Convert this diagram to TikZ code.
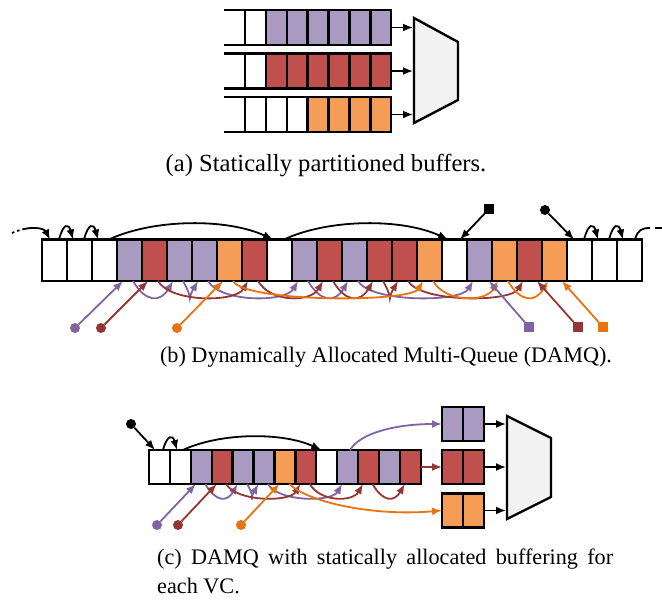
\documentclass[tikz,border=0pt]{standalone}
\usepackage{fontspec}
\setmainfont{Liberation Serif}
\usetikzlibrary{arrows.meta}
\definecolor{pfill}{HTML}{A99AC1}
\definecolor{rfill}{HTML}{C0504D}
\definecolor{ofill}{HTML}{F59D56}
\definecolor{pline}{HTML}{8064A2}
\definecolor{rline}{HTML}{943634}
\definecolor{oline}{HTML}{E9730E}
\definecolor{muxfill}{HTML}{F2F2F2}
\tikzset{
  slot/.style={rectangle, draw=black, line width=2.4pt, inner sep=0pt, outer sep=0pt, anchor=north west},
  slotA/.style={slot, minimum width=20.9pt, minimum height=35pt},
  slotB/.style={slot, minimum width=25pt, minimum height=41.5pt},
  slotC/.style={slot, minimum width=20.9pt, minimum height=34pt},
  link/.style={line width=1.8pt, -{Latex[length=10pt,width=8pt]}},
  plain/.style={line width=1.8pt},
  edge/.style={line width=2.4pt},
  mux/.style={draw=black, fill=muxfill, line width=2.4pt, line join=miter},
  pin/.style={circle, fill=#1, inner sep=0pt, minimum size=10pt},
  sqpin/.style={rectangle, fill=#1, inner sep=0pt, minimum size=9.5pt},
  caption/.style={font=\fontsize{22.2pt}{29pt}\selectfont, inner sep=0pt},
}
\begin{document}
\begin{tikzpicture}[x=1pt,y=-1pt]
\useasboundingbox (0,0) rectangle (662,608);

% ---------- (a) statically partitioned buffers ----------
\foreach \r/\cols in {0/{white,white,pfill,pfill,pfill,pfill,pfill,pfill},
                      1/{white,white,rfill,rfill,rfill,rfill,rfill,rfill},
                      2/{white,white,white,white,ofill,ofill,ofill,ofill}} {
  \foreach \c [count=\i from 0] in \cols
    \node[slotA, fill=\c, draw=none] (a\r\i) at (224+20.9*\i, 10+43.5*\r) {};
  \draw[edge] (a\r0.north west) -- (a\r7.north east) -- (a\r7.south east) -- (a\r0.south west);
  \foreach \i in {1,...,7}
    \draw[edge] (a\r\i.north west) -- (a\r\i.south west);
}
\draw[mux] (414,18) -- (458,42) -- (458,100) -- (414,123) -- cycle;
\coordinate (ain0) at (413,27.5);
\coordinate (ain1) at (413,71);
\coordinate (ain2) at (413,114.5);
\foreach \r in {0,1,2}
  \draw[link] (a\r7.east) -- (ain\r);
\node[caption, font=\fontsize{24.6pt}{30pt}\selectfont] (capA) at (326,165) {(a) Statically partitioned buffers.};

% ---------- (b) DAMQ ----------
\foreach \c [count=\i from 0] in {white,white,white,pfill,rfill,pfill,pfill,ofill,rfill,white,pfill,rfill,
                                  pfill,rfill,rfill,ofill,white,pfill,ofill,rfill,ofill,white,white,white}
  \node[slotB, fill=\c] (b\i) at (42+25*\i, 239.5) {};

% free list above the buffer
\coordinate (bfree) at (12,233);
\draw[link, dash pattern=on 2.5pt off 3pt on 2.5pt off 3pt on 80pt] (bfree) .. controls (30,225) and (44,228) .. ([xshift=8pt]b0.north west);
\foreach \s/\t in {0/1,1/2,21/22,22/23}
  \draw[link] ([xshift=17pt]b\s.north west) .. controls +(-75:17) and +(-105:17) .. ([xshift=6pt]b\t.north west);
\foreach \s/\t in {2/9,9/16}
  \draw[link] ([xshift=17pt]b\s.north west) .. controls +(-25:50) and +(-155:50) .. ([xshift=6pt]b\t.north west);
\coordinate (bfreeend) at (650,228);
\coordinate (bfreeout) at (662,228);
\draw[plain] ([xshift=18pt]b23.north west) .. controls +(-75:10) and (642,228) .. (bfreeend);
\draw[plain, dash pattern=on 0pt off 5pt on 10pt] (bfreeend) -- (bfreeout);
\node[sqpin=black] (bhead) at (489,209) {};
\draw[link] (bhead) -- ([xshift=18pt]b16.north west);
\node[pin=black] (btail) at (545,210) {};
\draw[link] (btail) -- ([xshift=7pt]b21.north west);

% per-VC linked lists below the buffer
\foreach \s/\t/\col in {3/5/pline,5/6/pline,6/10/pline,10/12/pline,12/17/pline,
                        4/8/rline,8/11/rline,11/13/rline,13/14/rline,14/19/rline,
                        7/15/oline,15/18/oline,18/20/oline}
  \draw[link, \col] ([xshift=16pt]b\s.south west) .. controls +(60:25) and +(120:25) .. ([xshift=6pt]b\t.south west);

\node[pin=pline] (bpi) at (75,328) {};
\node[pin=rline] (bri) at (101,328) {};
\node[pin=oline] (boi) at (177,328) {};
\draw[link, pline] (bpi) -- ([xshift=6pt]b3.south west);
\draw[link, rline] (bri) -- ([xshift=6pt]b4.south west);
\draw[link, oline] (boi) -- ([xshift=6pt]b7.south west);
\node[sqpin=pline] (bpo) at (529,327) {};
\node[sqpin=rline] (bro) at (578,327) {};
\node[sqpin=oline] (boo) at (603,327) {};
\draw[link, pline] (bpo) -- ([xshift=22pt]b17.south west);
\draw[link, rline] (bro) -- ([xshift=20pt]b19.south west);
\draw[link, oline] (boo) -- ([xshift=20pt]b20.south west);

\node[caption] (capB) at (386,357) {(b) Dynamically Allocated Multi-Queue (DAMQ).};

% ---------- (c) DAMQ with per-VC output buffers ----------
\foreach \c [count=\i from 0] in {white,white,pfill,rfill,pfill,pfill,ofill,rfill,white,pfill,rfill,pfill,rfill}
  \node[slotC, fill=\c] (c\i) at (149+20.9*\i, 450) {};

\node[pin=black] (ctail) at (131,424) {};
\draw[link] (ctail) -- ([xshift=6pt]c0.north west);
\draw[link] ([xshift=14pt]c0.north west) .. controls +(-75:16) and +(-105:16) .. ([xshift=7pt]c1.north west);
\draw[link] ([xshift=13pt]c1.north west) .. controls +(-25:42) and +(-155:42) .. ([xshift=5pt]c8.north west);

\foreach \s/\t/\col in {2/4/pline,4/5/pline,5/9/pline,3/7/rline,7/10/rline,10/12/rline}
  \draw[link, \col] ([xshift=14.5pt]c\s.south west) .. controls +(60:21) and +(120:21) .. ([xshift=5pt]c\t.south west);

\node[pin=pline] (cpi) at (157,525) {};
\node[pin=rline] (cri) at (178,525) {};
\node[pin=oline] (coi) at (241,525) {};
\draw[link, pline] (cpi) -- ([xshift=5pt]c2.south west);
\draw[link, rline] (cri) -- ([xshift=5pt]c3.south west);
\draw[link, oline] (coi) -- ([xshift=5pt]c6.south west);

\foreach \k/\c/\y in {p/pfill/407, r/rfill/450, o/ofill/493.5} {
  \node[slotC, fill=\c] (\k b0) at (442,\y) {};
  \node[slotC, fill=\c] (\k b1) at (462.9,\y) {};
}
\draw[mux] (507,416) -- (551,438) -- (551,497) -- (507,519) -- cycle;
\coordinate (cin0) at (506,424);
\coordinate (cin1) at (506,467);
\coordinate (cin2) at (506,510.5);
\draw[link] (pb1.east) -- (cin0);
\draw[link] (rb1.east) -- (cin1);
\draw[link] (ob1.east) -- (cin2);

\draw[link, pline] ([xshift=13pt]c9.north west) .. controls +(-60:20) and +(180:45) .. (pb0.west);
\draw[link, rline] (c12.east) -- (rb0.west);
\draw[link, oline] ([xshift=15pt]c6.south west) .. controls +(45:25) and +(175:70) .. (ob0.west);

\node[caption, anchor=north west, text width=456pt, align=justify] (capC) at (157,549)
  {(c) DAMQ with statically allocated buffering for each VC.};
\end{tikzpicture}
\end{document}
